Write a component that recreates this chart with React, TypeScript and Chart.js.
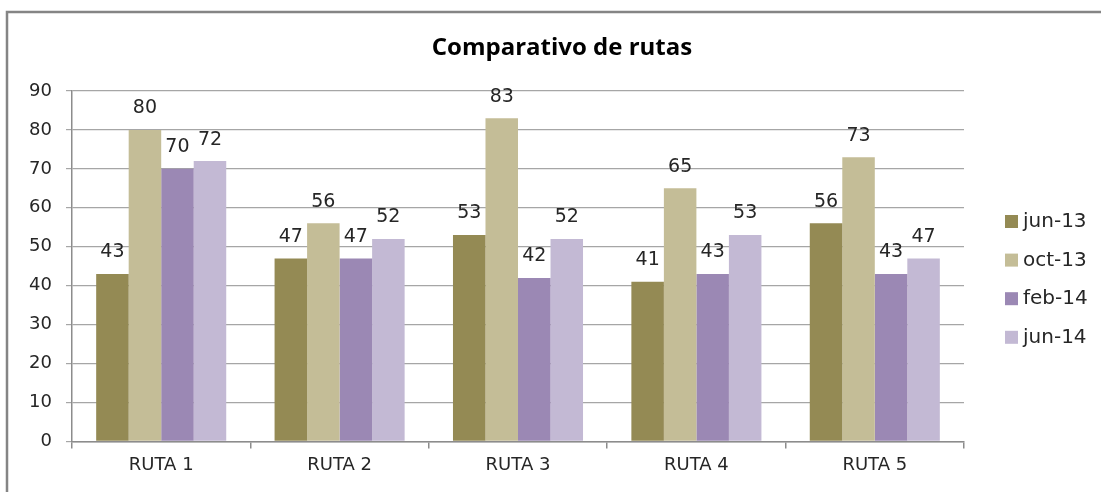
import React, { useEffect, useRef } from "react";
import { Chart, registerables } from "chart.js";

Chart.register(...registerables);

const categories = ["RUTA 1", "RUTA 2", "RUTA 3", "RUTA 4", "RUTA 5"];
const seriesNames = ["jun-13", "oct-13", "feb-14", "jun-14"];
const jun13 = [43, 47, 53, 41, 56];
const oct13 = [80, 56, 83, 65, 73];
const feb14 = [70, 47, 42, 43, 43];
const jun14 = [72, 52, 52, 53, 47];
const seriesColors = ["#948A54", "#C4BD97", "#9B88B4", "#C3B9D4"];
const yTicks = [0, 10, 20, 30, 40, 50, 60, 70, 80, 90];
const titleText = "Comparativo de rutas";

const FONT = "'DejaVu Sans', sans-serif";
const TITLE_FONT = "'Open Sans', 'DejaVu Sans', sans-serif";

const decorPlugin = {
  id: "decor",
  beforeDraw(chart: any) {
    const ctx = chart.ctx;
    ctx.save();
    ctx.fillStyle = "#fff";
    ctx.fillRect(0, 0, chart.width, chart.height);
    ctx.strokeStyle = "#858585";
    ctx.lineWidth = 2.5;
    ctx.beginPath();
    ctx.moveTo(7, chart.height);
    ctx.lineTo(7, 12);
    ctx.lineTo(chart.width, 12);
    ctx.stroke();
    ctx.font = `bold 24px ${TITLE_FONT}`;
    ctx.fillStyle = "#000";
    ctx.textAlign = "center";
    ctx.textBaseline = "middle";
    ctx.fillText(titleText, 562, 48);
    ctx.restore();
  },
  afterDatasetsDraw(chart: any) {
    const ctx = chart.ctx;
    ctx.save();
    ctx.font = `19px ${FONT}`;
    ctx.fillStyle = "#262626";
    ctx.textAlign = "center";
    ctx.textBaseline = "bottom";
    chart.data.datasets.forEach((ds: any, i: number) => {
      const meta = chart.getDatasetMeta(i);
      meta.data.forEach((bar: any, j: number) => {
        ctx.fillText(String(ds.data[j]), bar.x, bar.y - 12);
      });
    });
    // legend
    const lx = 1005;
    const ly0 = 221;
    const step = 38.6;
    ctx.textAlign = "left";
    ctx.textBaseline = "middle";
    ctx.font = `20px ${FONT}`;
    chart.data.datasets.forEach((ds: any, i: number) => {
      const y = ly0 + i * step;
      ctx.fillStyle = ds.backgroundColor;
      ctx.fillRect(lx, y - 6, 13, 13);
      ctx.fillStyle = "#262626";
      ctx.fillText(ds.label, lx + 18, y + 1);
    });
    ctx.restore();
  },
};

export default function App() {
  const ref = useRef<HTMLCanvasElement>(null);
  useEffect(() => {
    const all = [jun13, oct13, feb14, jun14];
    const chart = new Chart(ref.current!, {
      type: "bar",
      data: {
        labels: categories,
        datasets: all.map((d, i) => ({
          label: seriesNames[i],
          data: d,
          backgroundColor: seriesColors[i],
          borderWidth: 0,
          categoryPercentage: 0.729,
          barPercentage: 1,
        })),
      },
      options: {
        animation: false,
        responsive: false,
        layout: { padding: { left: 10, right: 137, top: 91, bottom: 10 } },
        plugins: {
          legend: { display: false },
          tooltip: { enabled: false },
          title: { display: false },
        },
        scales: {
          x: {
            grid: {
              drawOnChartArea: false,
              drawTicks: true,
              tickLength: 7,
              color: "#8c8c8c",
              lineWidth: 1.5,
              offset: true,
            },
            border: { color: "#8c8c8c", width: 1.5 },
            ticks: { color: "#262626", font: { family: FONT, size: 18 }, padding: 6 },
          },
          y: {
            min: 0,
            max: 90,
            afterBuildTicks: (scale: any) => {
              scale.ticks = yTicks.map((v) => ({ value: v }));
            },
            afterFit: (scale: any) => {
              scale.width = 62;
            },
            grid: { color: "#a6a6a6", lineWidth: 1.2, tickLength: 6 },
            border: { color: "#8c8c8c", width: 1.5 },
            ticks: { color: "#262626", font: { family: FONT, size: 18 }, padding: 14 },
          },
        },
      },
      plugins: [decorPlugin],
    });
    return () => chart.destroy();
  }, []);
  return (
    <div style={{ position: "fixed", left: 0, top: 0, width: 1101, height: 492, background: "#fff" }}>
      <canvas ref={ref} width={1101} height={492} style={{ width: 1101, height: 492 }} />
    </div>
  );
}
